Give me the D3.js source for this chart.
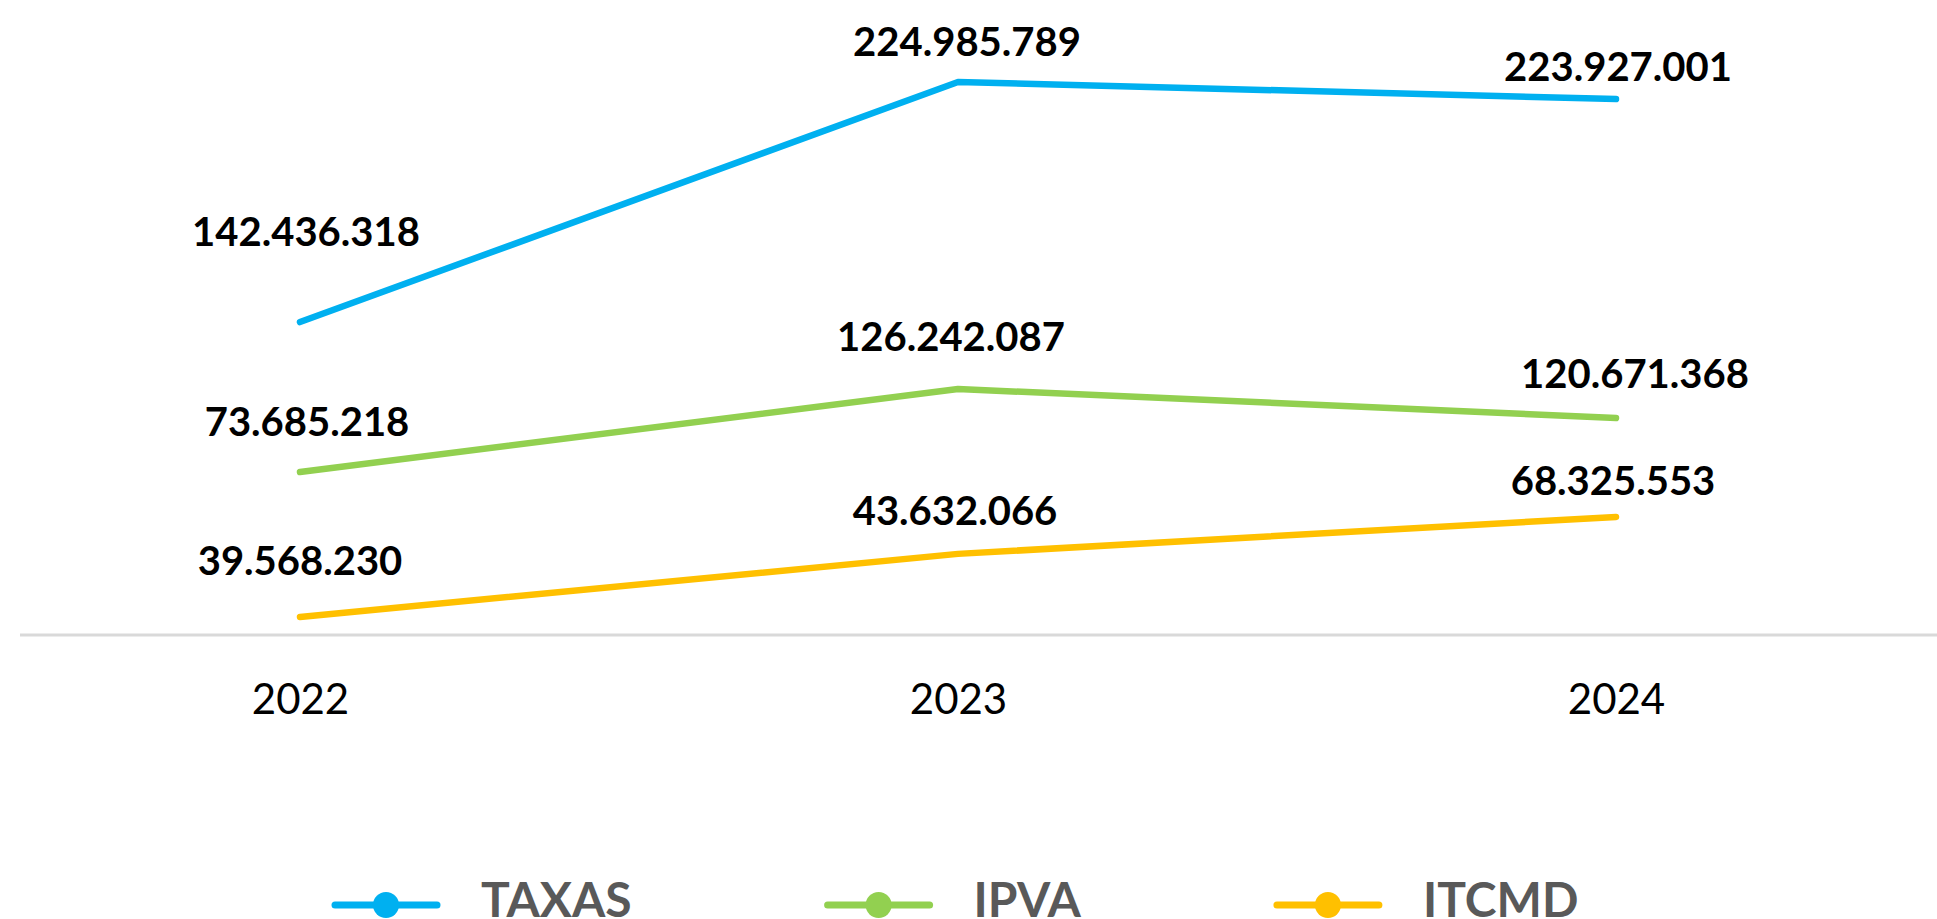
<!DOCTYPE html>
<html>
<head>
<meta charset="utf-8">
<script src="https://cdn.jsdelivr.net/npm/d3@7"></script>
<style>
  html, body { margin: 0; padding: 0; background: #ffffff; }
  svg { display: block; }
</style>
</head>
<body>
<svg id="chart" width="1937" height="919"></svg>
<script>
// ---- data ----
const years = ["2022", "2023", "2024"];
const seriesNames = ["TAXAS", "IPVA", "ITCMD"];
// values shown in the data labels
const taxasValues = [142436318, 224985789, 223927001];
const ipvaValues  = [73685218, 126242087, 120671368];
const itcmdValues = [39568230, 43632066, 68325553];
// heights at which the lines are drawn in the picture (millions)
const taxasPlotted = [130.4, 230.4, 223.3];
const ipvaPlotted  = [67.9, 102.5, 90.4];
const itcmdPlotted = [7.5, 33.8, 49.2];

// ---- layout / style ----
const colors = { TAXAS: "#00B0F0", IPVA: "#92D050", ITCMD: "#FFC000" };
const series = [
  { name: "TAXAS", values: taxasValues, plotted: taxasPlotted },
  { name: "IPVA",  values: ipvaValues,  plotted: ipvaPlotted },
  { name: "ITCMD", values: itcmdValues, plotted: itcmdPlotted }
];
// manual label nudges (px) as in the original chart: [dx, gap above point]
const labelNudge = {
  TAXAS: [[6, 76], [9, 26], [2, 18]],
  IPVA:  [[7, 36], [-7, 38], [19, 30]],
  ITCMD: [[0, 42], [-3, 29], [-3, 22]]
};

const svg = d3.select("#chart");
const axisY = 635;

const x = d3.scalePoint().domain(years).range([300, 1616]);
const y = d3.scaleLinear().domain([0, 250]).range([axisY, axisY - 600]);

// category axis line
svg.append("line")
  .attr("x1", 20).attr("x2", 1937)
  .attr("y1", axisY).attr("y2", axisY)
  .attr("stroke", "#d9d9d9").attr("stroke-width", 3);

// year labels
const xAxis = d3.axisBottom(x).tickSize(0).tickPadding(0);
const gx = svg.append("g").attr("transform", `translate(0,${axisY})`).call(xAxis);
gx.select(".domain").remove();
gx.selectAll("text")
  .attr("y", 79).attr("dy", null)
  .attr("font-family", "Lato, 'Open Sans', sans-serif")
  .attr("font-size", 42)
  .attr("fill", "#000000");

// lines
const line = d3.line().x((d, i) => x(years[i])).y(d => y(d));
series.forEach(s => {
  svg.append("path")
    .attr("d", line(s.plotted))
    .attr("fill", "none")
    .attr("stroke", colors[s.name])
    .attr("stroke-width", 6.5)
    .attr("stroke-linecap", "round")
    .attr("stroke-linejoin", "round");
});

// data labels
const fmt = v => d3.format(",")(v).replace(/,/g, ".");
series.forEach(s => {
  svg.append("g").selectAll("text")
    .data(s.values)
    .join("text")
    .attr("x", (d, i) => x(years[i]) + labelNudge[s.name][i][0])
    .attr("y", (d, i) => y(s.plotted[i]) - labelNudge[s.name][i][1])
    .attr("text-anchor", "middle")
    .attr("font-family", "Lato, 'Open Sans', sans-serif")
    .attr("font-weight", "bold")
    .attr("font-size", 40)
    .attr("fill", "#000000")
    .text(d => fmt(d));
});

// legend
const legend = svg.append("g");
let cursor = 331;
const legendY = 905;
seriesNames.forEach(name => {
  const g = legend.append("g");
  g.append("line")
    .attr("x1", cursor + 4).attr("x2", cursor + 106)
    .attr("y1", legendY).attr("y2", legendY)
    .attr("stroke", colors[name]).attr("stroke-width", 7)
    .attr("stroke-linecap", "round");
  g.append("circle")
    .attr("cx", cursor + 55).attr("cy", legendY).attr("r", 13)
    .attr("fill", colors[name]);
  const t = g.append("text")
    .attr("x", cursor + 150).attr("y", 917)
    .attr("font-family", "Lato, 'Open Sans', sans-serif")
    .attr("font-weight", "bold")
    .attr("font-size", 48)
    .attr("fill", "#595959")
    .text(name);
  const w = t.node().getComputedTextLength();
  cursor = cursor + 150 + w + 192;
});
</script>
</body>
</html>
